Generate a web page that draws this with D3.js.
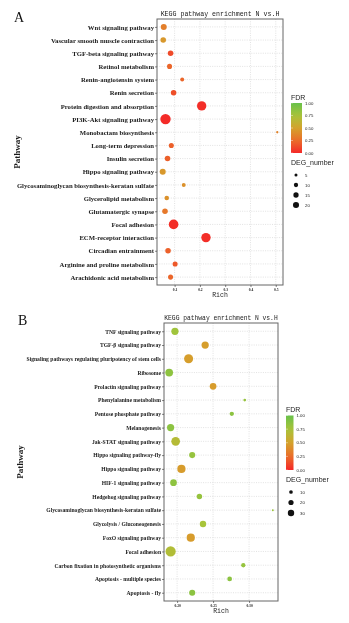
<!DOCTYPE html>
<html>
<head>
<meta charset="utf-8">
<script src="https://cdn.jsdelivr.net/npm/d3@7"></script>
<style>
  body { margin: 0; background: #fff; }
  svg { will-change: transform; }
  .lab { font-family: "Liberation Serif", serif; font-weight: bold; fill: #1a1a1a; }
  .mono { font-family: "Liberation Mono", monospace; fill: #222; }
  .sans { font-family: "Liberation Sans", Arial, sans-serif; fill: #222; }
</style>
</head>
<body>
<svg id="fig" width="349" height="623"></svg>
<script>
// panel A: N vs H, pathways top to bottom
var pathwaysA = ["Wnt signaling pathway", "Vascular smooth muscle contraction", "TGF-beta signaling pathway",
  "Retinol metabolism", "Renin-angiotensin system", "Renin secretion", "Protein digestion and absorption",
  "PI3K-Akt signaling pathway", "Monobactam biosynthesis", "Long-term depression", "Insulin secretion",
  "Hippo signaling pathway", "Glycosaminoglycan biosynthesis-keratan sulfate", "Glycerolipid metabolism",
  "Glutamatergic synapse", "Focal adhesion", "ECM-receptor interaction", "Circadian entrainment",
  "Arginine and proline metabolism", "Arachidonic acid metabolism"];
var richA = [0.057, 0.055, 0.084, 0.080, 0.130, 0.096, 0.207, 0.064, 0.506, 0.087,
  0.072, 0.053, 0.136, 0.069, 0.062, 0.096, 0.224, 0.074, 0.102, 0.084];
var fdrA = [0.33, 0.45, 0.12, 0.22, 0.22, 0.14, 0.02, 0.01, 0.35, 0.2,
  0.2, 0.45, 0.42, 0.42, 0.3, 0.02, 0.02, 0.2, 0.17, 0.22];
var degA = [7, 6, 6, 5, 3, 6, 17, 21, 1, 5, 6, 7, 3, 4, 6, 18, 17, 6, 5, 5];
var ticksA = [0.1, 0.2, 0.3, 0.4, 0.5];
var sizeBreaksA = [5, 10, 15, 20];

// panel B
var pathwaysB = ["TNF signaling pathway", "TGF-\u03b2 signaling pathway",
  "Signaling pathways regulating pluripotency of stem cells", "Ribosome", "Prolactin signaling pathway",
  "Phenylalanine metabolism", "Pentose phosphate pathway", "Melanogenesis", "Jak-STAT signaling pathway",
  "Hippo signaling pathway-fly", "Hippo signaling pathway", "HIF-1 signaling pathway",
  "Hedgehog signaling pathway", "Glycosaminoglycan biosynthesis-keratan sulfate",
  "Glycolysis / Gluconeogenesis", "FoxO signaling pathway", "Focal adhesion",
  "Carbon fixation in photosynthetic organisms", "Apoptosis - multiple species", "Apoptosis - fly"];
var richB = [0.197, 0.239, 0.216, 0.189, 0.250, 0.294, 0.276, 0.191, 0.198, 0.221,
  0.206, 0.195, 0.231, 0.333, 0.236, 0.219, 0.191, 0.292, 0.273, 0.221];
var fdrB = [0.78, 0.48, 0.48, 0.85, 0.47, 0.82, 0.86, 0.86, 0.68, 0.82,
  0.47, 0.85, 0.82, 0.8, 0.75, 0.47, 0.7, 0.82, 0.86, 0.86];
var degB = [14, 14, 22, 16, 12, 2, 5, 14, 20, 10, 18, 12, 8, 1, 11, 18, 28, 5, 6, 10];
var ticksB = [0.20, 0.25, 0.30];
var sizeBreaksB = [10, 20, 30];

var fdrTicks = [0, 0.25, 0.5, 0.75, 1];
// red -> orange -> gold -> green gradient for FDR
var color = d3.scaleLinear()
  .domain([0, 0.25, 0.5, 0.75, 1])
  .range(["#f42828", "#ea6e2a", "#d4a22c", "#a8c43a", "#68c14a"]);

var svg = d3.select("#fig");

function panel(o) {
  var g = svg.append("g");
  var ext = d3.extent(o.rich), pad = (ext[1] - ext[0]) * 0.05;
  var x = d3.scaleLinear().domain([ext[0] - pad, ext[1] + pad]).range([o.left, o.right]);
  var y = d3.scalePoint().domain(o.paths).range([o.top, o.bottom]).padding(0.6);
  var r = d3.scaleSqrt().domain([0, o.rmaxVal]).range([0, o.rmax]);

  // grid
  g.selectAll(".hg").data(o.paths).enter().append("line")
    .attr("x1", o.left).attr("x2", o.right)
    .attr("y1", d => y(d)).attr("y2", d => y(d))
    .attr("stroke", "#cfcfcf").attr("stroke-width", 0.6).attr("stroke-dasharray", "1,1.3");
  g.selectAll(".vg").data(o.ticks).enter().append("line")
    .attr("x1", d => x(d)).attr("x2", d => x(d))
    .attr("y1", o.top).attr("y2", o.bottom)
    .attr("stroke", "#cfcfcf").attr("stroke-width", 0.6).attr("stroke-dasharray", "1,1.3");

  // points
  g.selectAll(".pt").data(o.paths).enter().append("circle")
    .attr("cx", (d, i) => x(o.rich[i]))
    .attr("cy", d => y(d))
    .attr("r", (d, i) => r(o.deg[i]))
    .attr("fill", (d, i) => color(o.fdr[i]));

  // frame
  g.append("rect").attr("x", o.left).attr("y", o.top)
    .attr("width", o.right - o.left).attr("height", o.bottom - o.top)
    .attr("fill", "none").attr("stroke", "#666").attr("stroke-width", 1);

  // y axis
  var ya = g.append("g").attr("transform", `translate(${o.left},0)`)
    .call(d3.axisLeft(y).tickSize(2).tickPadding(1));
  ya.select(".domain").remove();
  ya.selectAll("line").attr("stroke", "#333").attr("stroke-width", 0.6);
  ya.selectAll("text").attr("class", "lab").attr("fill", null).attr("font-family", null)
    .style("font-size", o.labSize + "px");

  // x axis
  var xa = g.append("g").attr("transform", `translate(0,${o.bottom})`)
    .call(d3.axisBottom(x).tickValues(o.ticks).tickFormat(o.fmt).tickSize(2).tickPadding(1.5));
  xa.select(".domain").remove();
  xa.selectAll("line").attr("stroke", "#333").attr("stroke-width", 0.6);
  xa.selectAll("text").attr("class", "lab").attr("fill", null).attr("font-family", null)
    .style("font-size", "3.6px");

  // titles
  g.append("text").attr("class", "mono").attr("x", (o.left + o.right) / 2).attr("y", o.top - 3)
    .attr("text-anchor", "middle").style("font-size", o.titleSize + "px")
    .text("KEGG pathway enrichment N vs.H");
  g.append("text").attr("class", "mono").attr("x", (o.left + o.right) / 2).attr("y", o.bottom + 12)
    .attr("text-anchor", "middle").style("font-size", "6.5px").text("Rich");
  g.append("text").attr("class", "lab")
    .attr("transform", `translate(${o.ylabX},${(o.top + o.bottom) / 2}) rotate(-90)`)
    .attr("text-anchor", "middle").style("font-size", "9px").text("Pathway");
  g.append("text").attr("x", o.letterX).attr("y", o.letterY)
    .style("font-family", "Liberation Serif, serif").style("font-size", "14px").attr("fill", "#111")
    .text(o.letter);

  // FDR colour bar
  var L = o.legend;
  var gradId = "grad" + o.letter;
  var grad = svg.append("defs").append("linearGradient").attr("id", gradId)
    .attr("x1", 0).attr("y1", 1).attr("x2", 0).attr("y2", 0);
  d3.range(0, 1.01, 0.1).forEach(function (t) {
    grad.append("stop").attr("offset", t).attr("stop-color", color(t));
  });
  g.append("text").attr("class", "sans").attr("x", L.x).attr("y", L.y).style("font-size", "7px").text("FDR");
  var cb = d3.scaleLinear().domain([0, 1]).range([L.barBottom, L.barTop]);
  g.append("rect").attr("x", L.x).attr("y", L.barTop).attr("width", L.barW)
    .attr("height", L.barBottom - L.barTop).attr("fill", `url(#${gradId})`);
  g.selectAll(".ct").data(fdrTicks).enter().append("text").attr("class", "sans")
    .attr("x", L.x + L.barW + 3).attr("y", d => cb(d) + 1.5).style("font-size", "4.3px")
    .text(d => d3.format(".2f")(d));
  g.selectAll(".cl").data(fdrTicks).enter().append("line")
    .attr("x1", L.x).attr("x2", L.x + 2).attr("y1", d => cb(d)).attr("y2", d => cb(d))
    .attr("stroke", "#fff").attr("stroke-width", 0.4);

  // DEG_number size key
  g.append("text").attr("class", "sans").attr("x", L.x).attr("y", L.sizeY).style("font-size", "7px").text("DEG_number");
  var rl = d3.scaleSqrt().domain([0, o.rmaxVal]).range([0, o.rmax * 0.6]);
  o.breaks.forEach(function (b, i) {
    var cy = L.sizeY + 10 + i * L.sizeStep;
    g.append("circle").attr("cx", L.x + 5).attr("cy", cy).attr("r", rl(b)).attr("fill", "#111");
    g.append("text").attr("class", "sans").attr("x", L.x + 14).attr("y", cy + 1.5)
      .style("font-size", "4.3px").text(b);
  });
}

panel({
  letter: "A", letterX: 14, letterY: 22,
  paths: pathwaysA, rich: richA, fdr: fdrA, deg: degA, ticks: ticksA, breaks: sizeBreaksA,
  fmt: d3.format(".1f"),
  left: 157, right: 283, top: 19, bottom: 285,
  rmax: 5.2, rmaxVal: 21, labSize: 6.7, titleSize: 6.6, ylabX: 20,
  legend: { x: 291, y: 100, barTop: 103, barBottom: 153, barW: 11, sizeY: 165, sizeStep: 10 }
});

panel({
  letter: "B", letterX: 18, letterY: 325,
  paths: pathwaysB, rich: richB, fdr: fdrB, deg: degB, ticks: ticksB, breaks: sizeBreaksB,
  fmt: d3.format(".2f"),
  left: 164, right: 278, top: 323, bottom: 601,
  rmax: 5.3, rmaxVal: 30, labSize: 5.6, titleSize: 6.3, ylabX: 23,
  legend: { x: 286, y: 412, barTop: 415.5, barBottom: 470, barW: 7.5, sizeY: 482, sizeStep: 10.5 }
});
</script>
</body>
</html>
